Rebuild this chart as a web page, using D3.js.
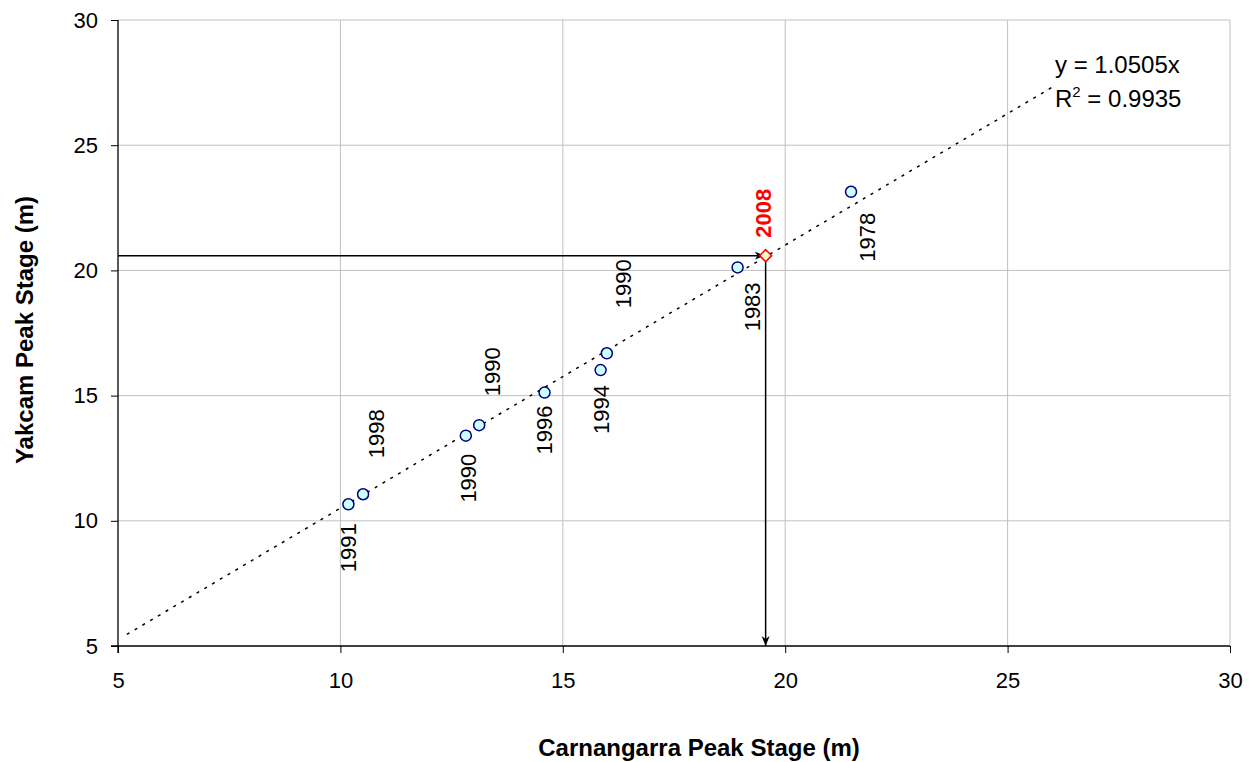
<!DOCTYPE html>
<html><head><meta charset="utf-8">
<script src="https://cdn.jsdelivr.net/npm/d3@7"></script>
<style>body{margin:0;background:#fff}svg{display:block;font-family:"Liberation Sans",Arial,sans-serif}</style>
</head><body>
<svg id="c" width="1257" height="762"></svg>
<script>
const years = ["1991","1998","1990","1990","1996","1994","1990","1983","1978"];
const carnangarra = [10.18,10.51,12.82,13.12,14.59,15.85,15.99,18.93,21.48];
const yakcam = [10.66,11.06,13.40,13.82,15.12,16.02,16.69,20.12,23.14];
const event2008 = {year:"2008", x:19.56, y:20.59};
const slope = 1.0505, r2 = "0.9935";
const trendRange = [5.2, 26.0];
const xTicks = [5,10,15,20,25,30];
const yTicks = [5,10,15,20,25,30];
// label placement (px nudges): [dx, dy, side]
const labelNudge = [[0,19,"below"],[13,-36,"above"],[2,18,"below"],[13,-29,"above"],[-1,13,"below"],[0,15,"below"],[16,-45,"above"],[14,15,"below"],[16,21,"below"]];
const nudge2008 = [-3,-18,"above"];

const svg = d3.select("#c");
const L=118,R=1230,T=20,B=646;
const x = d3.scaleLinear().domain([5,30]).range([L,R]);
const y = d3.scaleLinear().domain([5,30]).range([B,T]);

// grid
svg.append("g").selectAll("line").data(xTicks.slice(1)).join("line")
  .attr("x1",d=>x(d)).attr("x2",d=>x(d)).attr("y1",T).attr("y2",B)
  .attr("stroke","#c0c0c0").attr("stroke-width",1);
svg.append("g").selectAll("line").data(yTicks.slice(1)).join("line")
  .attr("x1",L).attr("x2",R).attr("y1",d=>y(d)).attr("y2",d=>y(d))
  .attr("stroke","#c0c0c0").attr("stroke-width",1);

// axes
const xa = svg.append("g").attr("transform",`translate(0,${B})`)
  .call(d3.axisBottom(x).tickValues(xTicks).tickSize(7).tickPadding(19).tickFormat(d3.format("d")));
const ya = svg.append("g").attr("transform",`translate(${L},0)`)
  .call(d3.axisLeft(y).tickValues(yTicks).tickSize(7).tickPadding(13).tickFormat(d3.format("d")));
[xa,ya].forEach(a=>{
  a.select(".domain").remove();
  a.selectAll("line").attr("stroke","#000");
  a.selectAll("text").attr("font-size",22).attr("font-family","Liberation Sans, Arial").attr("fill","#000");
});
svg.append("line").attr("x1",L).attr("x2",L).attr("y1",T).attr("y2",B+7).attr("stroke","#000").attr("stroke-width",1.3);
svg.append("line").attr("x1",L-7).attr("x2",R).attr("y1",B).attr("y2",B).attr("stroke","#000").attr("stroke-width",1.3);

// trendline
svg.append("line").attr("x1",x(trendRange[0])).attr("y1",y(slope*trendRange[0]))
  .attr("x2",x(trendRange[1])).attr("y2",y(slope*trendRange[1]))
  .attr("stroke","#000").attr("stroke-width",1.5).attr("stroke-dasharray","3,6");

// arrows
const defs = svg.append("defs");
defs.append("marker").attr("id","arr").attr("viewBox","0 0 10 10").attr("refX",10).attr("refY",5)
  .attr("markerWidth",10).attr("markerHeight",10).attr("markerUnits","userSpaceOnUse").attr("orient","auto")
  .append("path").attr("d","M0,1 L10,5 L0,9 L3,5 Z").attr("fill","#000");
svg.append("line").attr("x1",L).attr("y1",y(event2008.y)).attr("x2",x(event2008.x)-1).attr("y2",y(event2008.y))
  .attr("stroke","#000").attr("stroke-width",1.5).attr("marker-end","url(#arr)");
svg.append("line").attr("x1",x(event2008.x)).attr("y1",y(event2008.y)).attr("x2",x(event2008.x)).attr("y2",B)
  .attr("stroke","#000").attr("stroke-width",1.5).attr("marker-end","url(#arr)");

// points
svg.append("g").selectAll("circle").data(carnangarra).join("circle")
  .attr("cx",d=>x(d)).attr("cy",(d,i)=>y(yakcam[i])).attr("r",5.5)
  .attr("fill","#ccffff").attr("stroke","#000080").attr("stroke-width",1.5);
const dx0=x(event2008.x), dy0=y(event2008.y), s=6;
svg.append("path").attr("d",`M${dx0},${dy0-s} L${dx0+s},${dy0} L${dx0},${dy0+s} L${dx0-s},${dy0} Z`)
  .attr("fill","#ffffcc").attr("stroke","#ff0000").attr("stroke-width",1.5);

// labels
function label(px,py,txt,nd,bold,color){
  const cx = px+nd[0], ay = py+nd[1];
  svg.append("text").attr("transform",`translate(${cx+8},${ay}) rotate(-90)`)
    .attr("text-anchor", nd[2]==="above"?"start":"end")
    .attr("font-size",22).attr("font-weight",bold?"bold":"normal").attr("fill",color).text(txt);
}
years.forEach((yr,i)=>label(x(carnangarra[i]),y(yakcam[i]),yr,labelNudge[i],false,"#000"));
label(dx0,dy0,event2008.year,nudge2008,true,"#ff0000");

// equation
svg.append("text").attr("x",1055).attr("y",73).attr("font-size",24).text(`y = ${slope}x`);
const rt = svg.append("text").attr("x",1055).attr("y",107).attr("font-size",24);
rt.append("tspan").text("R");
rt.append("tspan").attr("dy",-10).attr("font-size",15).text("2");
rt.append("tspan").attr("dy",10).text(` = ${r2}`);

// titles
svg.append("text").attr("x",(L+R)/2+25).attr("y",756).attr("text-anchor","middle")
  .attr("font-size",24).attr("font-weight","bold").text("Carnangarra Peak Stage (m)");
svg.append("text").attr("transform",`translate(33,330) rotate(-90)`).attr("text-anchor","middle")
  .attr("font-size",24).attr("font-weight","bold").text("Yakcam Peak Stage (m)");
</script>
</body></html>
